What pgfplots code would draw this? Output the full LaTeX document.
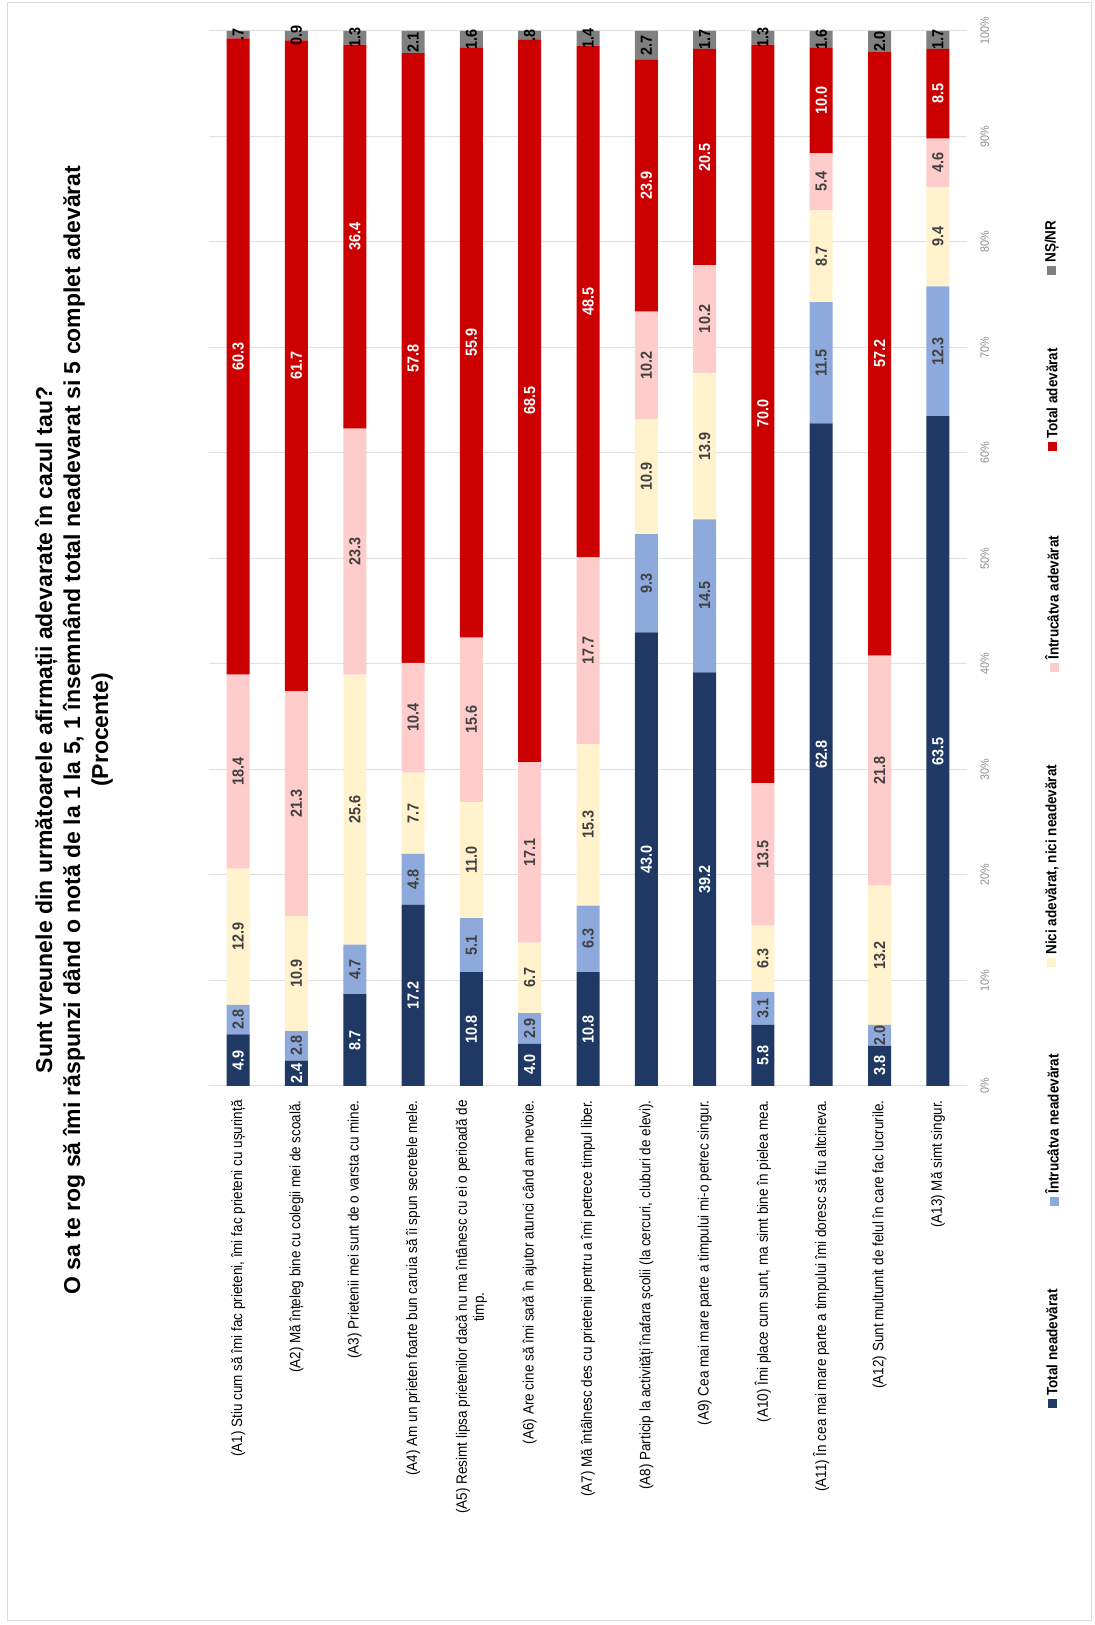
\documentclass[border=0pt]{standalone}
\usepackage{pgfplots}
\pgfplotsset{compat=1.18}
\usepackage{pgfplotstable}
\usepackage{fontspec}
\setmainfont{Liberation Sans}
\newfontfamily\nar{Liberation Sans}[FakeStretch=0.9]
\definecolor{cNavy}{HTML}{203864}
\definecolor{cLBlue}{HTML}{8EA9DB}
\definecolor{cCream}{HTML}{FFF2CC}
\definecolor{cPink}{HTML}{FFCCCC}
\definecolor{cRed}{HTML}{CC0000}
\definecolor{cGray}{HTML}{808080}
\definecolor{cTxt}{HTML}{404040}

\pgfplotstableread{
x tn in ni ia ta ns nsl
0 4.9 2.8 12.9 18.4 60.3 0.7 .7
1 2.4 2.8 10.9 21.3 61.7 0.9 0.9
2 8.7 4.7 25.6 23.3 36.4 1.3 1.3
3 17.2 4.8 7.7 10.4 57.8 2.1 2.1
4 10.8 5.1 11.0 15.6 55.9 1.6 1.6
5 4.0 2.9 6.7 17.1 68.5 0.8 .8
6 10.8 6.3 15.3 17.7 48.5 1.4 1.4
7 43.0 9.3 10.9 10.2 23.9 2.7 2.7
8 39.2 14.5 13.9 10.2 20.5 1.7 1.7
9 5.8 3.1 6.3 13.5 70.0 1.3 1.3
10 62.8 11.5 8.7 5.4 10.0 1.6 1.6
11 3.8 2.0 13.2 21.8 57.2 2.0 2.0
12 63.5 12.3 9.4 4.6 8.5 1.7 1.7
}\data

\pgfplotsset{common/.style={width=379pt, height=527.5pt, scale only axis,
  xmin=-0.5, xmax=12.5, ymin=0, ymax=100,
  at={(104.5pt,269.5pt)}, anchor=south west}}

\newcommand\lgd[2]{\textcolor{#1}{\rule{4.5pt}{4.5pt}}\hspace{1.5pt}#2}
\newcommand\lgfont{\nar\bfseries\fontsize{7.5}{9}\selectfont}

\begin{document}
\begin{tikzpicture}
\useasboundingbox (0,0) rectangle (547.5pt,812.5pt);
\draw[black!15, line width=0.5pt] (3.5pt,2pt) rectangle (545.5pt,811pt);

\begin{axis}[common, ybar stacked, bar width=11.5pt,
  axis line style={draw=none}, tick style={draw=none},
  ymajorgrids, grid style={draw=black!12, line width=0.5pt},
  xtick={0,...,12},
  xticklabels={
    {(A1) Stiu cum să îmi fac prieteni, îmi fac prieteni cu ușurință},
    {(A2) Mă înțeleg bine cu colegii mei de scoală.},
    {(A3) Prietenii mei sunt de o varsta cu mine.},
    {(A4) Am un prieten foarte bun caruia să îi spun secretele mele.},
    {(A5) Resimt lipsa prietenilor dacă nu ma întânesc cu ei o perioadă de\\timp.},
    {(A6) Are cine să îmi sară în ajutor atunci când am nevoie.},
    {(A7) Mă întâlnesc des cu prietenii pentru a îmi petrece timpul liber.},
    {(A8) Particip la activități înafara școlii (la cercuri, cluburi de elevi).},
    {(A9) Cea mai mare parte a timpului mi-o petrec singur.},
    {(A10) Îmi place cum sunt, ma simt bine în pielea mea.},
    {(A11) În cea mai mare parte a timpului îmi doresc să fiu altcineva.},
    {(A12) Sunt multumit de felul în care fac lucrurile.},
    {(A13) Mă simt singur.}},
  xticklabel style={rotate=90, anchor=east, align=center,
    font=\nar\fontsize{7.5}{8.5}\selectfont, inner sep=0pt},
  xticklabel shift=7pt,
  ytick={0,10,20,30,40,50,60,70,80,90,100},
  yticklabels={0\%,10\%,20\%,30\%,40\%,50\%,60\%,70\%,80\%,90\%,100\%},
  yticklabel pos=right,
  yticklabel style={rotate=90, anchor=north, font=\nar\fontsize{6}{7}\selectfont,
    text=black!45, inner sep=0pt},
  yticklabel shift=6.5pt,
]
\addplot[fill=cNavy, draw=none] table[x=x, y=tn]{\data};
\addplot[fill=cLBlue, draw=none] table[x=x, y=in]{\data};
\addplot[fill=cCream, draw=none] table[x=x, y=ni]{\data};
\addplot[fill=cPink, draw=none] table[x=x, y=ia]{\data};
\addplot[fill=cRed, draw=none] table[x=x, y=ta]{\data};
\addplot[fill=cGray, draw=none] table[x=x, y=ns]{\data};
\end{axis}

\begin{axis}[common, hide axis, nodes near coords, point meta=explicit symbolic,
  every node near coord/.style={anchor=center, rotate=90,
    font=\nar\bfseries\fontsize{8}{9}\selectfont, inner sep=0pt}]
\addplot[draw=none, every node near coord/.append style={text=white}]
  table[x=x, y expr=\thisrow{tn}/2, meta=tn]{\data};
\addplot[draw=none, every node near coord/.append style={text=cTxt}]
  table[x=x, y expr=\thisrow{tn}+\thisrow{in}/2, meta=in]{\data};
\addplot[draw=none, every node near coord/.append style={text=cTxt}]
  table[x=x, y expr=\thisrow{tn}+\thisrow{in}+\thisrow{ni}/2, meta=ni]{\data};
\addplot[draw=none, every node near coord/.append style={text=cTxt}]
  table[x=x, y expr=\thisrow{tn}+\thisrow{in}+\thisrow{ni}+\thisrow{ia}/2, meta=ia]{\data};
\addplot[draw=none, every node near coord/.append style={text=white}]
  table[x=x, y expr=\thisrow{tn}+\thisrow{in}+\thisrow{ni}+\thisrow{ia}+\thisrow{ta}/2, meta=ta]{\data};
\addplot[draw=none, every node near coord/.append style={text=black}]
  table[x=x, y expr=100-\thisrow{ns}/2, meta=nsl]{\data};
\end{axis}

\node[rotate=90, align=center, font=\bfseries\fontsize{11.5}{14}\selectfont] at (37pt,447.5pt)
  {Sunt vreunele din următoarele afirmații adevarate în cazul tau?\\
   O sa te rog să îmi răspunzi dând o notă de la 1 la 5, 1 însemnând total neadevarat si 5 complet adevărat\\
   (Procente)};

\foreach \c/\t/\yy in {cNavy/Total neadevărat/108.5, cLBlue/Întrucâtva neadevărat/209.5,
   cCream/{Nici adevărat, nici neadevărat}/329, cPink/Întrucâtva adevărat/476.5,
   cRed/Total adevărat/587, cGray/NȘ\slash NR/675}
  \node[rotate=90, anchor=west, font=\lgfont, inner sep=0pt] at (526pt,\yy pt) {\lgd{\c}{\t}};
\end{tikzpicture}
\end{document}
